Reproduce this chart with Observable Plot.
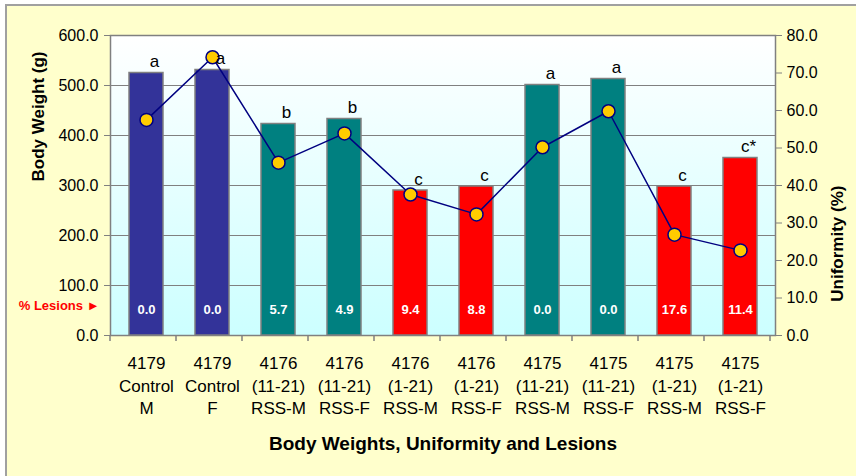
<!DOCTYPE html>
<html>
<head>
<meta charset="utf-8">
<script src="https://cdn.jsdelivr.net/npm/d3@7"></script>
<script src="https://cdn.jsdelivr.net/npm/@observablehq/plot@0.6"></script>
<style>
  html, body { margin: 0; padding: 0; background: #ffffff; }
  svg { display: block; }
</style>
</head>
<body>
<div id="chart"></div>
<script>
const categories = [
  "4179\nControl\nM", "4179\nControl\nF",
  "4176\n(11-21)\nRSS-M", "4176\n(11-21)\nRSS-F",
  "4176\n(1-21)\nRSS-M", "4176\n(1-21)\nRSS-F",
  "4175\n(11-21)\nRSS-M", "4175\n(11-21)\nRSS-F",
  "4175\n(1-21)\nRSS-M", "4175\n(1-21)\nRSS-F"
];
const groups = ["Control", "Control", "RSS 11-21", "RSS 11-21", "RSS 1-21", "RSS 1-21", "RSS 11-21", "RSS 11-21", "RSS 1-21", "RSS 1-21"];
const bodyWeight = [525, 531, 423, 433, 290, 298, 501, 513, 298, 355];
const uniformity = [57.5, 74.2, 46.1, 53.9, 37.6, 32.3, 50.2, 59.8, 26.9, 22.7];
const lesions = ["0.0", "0.0", "5.7", "4.9", "9.4", "8.8", "0.0", "0.0", "17.6", "11.4"];
const letters = ["a", "a", "b", "b", "c", "c", "a", "a", "c", "c*"];
const weightTicks = [0, 100, 200, 300, 400, 500, 600];
const uniformityTicks = [0, 10, 20, 30, 40, 50, 60, 70, 80];
const groupNames = ["Control", "RSS 11-21", "RSS 1-21"];
const groupColors = ["#333399", "#008080", "#ff0000"];

const weightMax = 600, uniformityMax = 80;
const k = weightMax / uniformityMax;

const data = categories.map((c, i) => ({
  cat: c, group: groups[i], w: bodyWeight[i], u: uniformity[i],
  lesion: lesions[i], letter: letters[i]
}));

const font = "'Liberation Sans', Arial, Helvetica, sans-serif";

function background(index, scales, values, dims) {
  const g = d3.create("svg:g");
  const defs = g.append("defs");
  const lg = defs.append("linearGradient").attr("id", "plotbg")
    .attr("x1", 0).attr("y1", 0).attr("x2", 0).attr("y2", 1);
  lg.append("stop").attr("offset", "0%").attr("stop-color", "#ffffff");
  lg.append("stop").attr("offset", "100%").attr("stop-color", "#ccffff");
  g.append("rect").attr("x", 6).attr("y", 5)
    .attr("width", dims.width + 20).attr("height", dims.height + 20)
    .attr("fill", "#ffffcc").attr("stroke", "#a0a0a0").attr("stroke-width", 2);
  return g.node();
}

function boundaryTicks(index, scales, values, dims) {
  const g = d3.create("svg:g").attr("stroke", "#808080").attr("stroke-width", 1.5);
  const x = scales.x;
  const step = x.step ? x.step() : x.bandwidth();
  const y0 = dims.height - dims.marginBottom;
  const x0 = dims.marginLeft;
  for (let i = 0; i <= categories.length; i++) {
    const xx = x0 + i * step;
    g.append("line").attr("x1", xx).attr("x2", xx).attr("y1", y0).attr("y2", y0 + 6);
  }
  return g.node();
}

const chart = Plot.plot({
  width: 856,
  height: 476,
  marginLeft: 110,
  marginRight: 81,
  marginTop: 35,
  marginBottom: 141,
  style: { background: "transparent", fontFamily: font, color: "#000" },
  x: { domain: categories, paddingInner: 0.49, paddingOuter: 0.245, label: null },
  y: { domain: [0, weightMax], label: null },
  color: { domain: groupNames, range: groupColors },
  marks: [
    background,
    Plot.frame({ fill: "url(#plotbg)", stroke: "none" }),
    Plot.gridY(weightTicks, { stroke: "#808080", strokeOpacity: 1, strokeWidth: 1.2 }),
    Plot.frame({ stroke: "#808080", strokeWidth: 1.5 }),
    Plot.barY(data, { x: "cat", y: "w", fill: "group", stroke: "#808080", strokeWidth: 1.5 }),
    Plot.axisY(weightTicks, {
      anchor: "left", tickFormat: d => d.toFixed(1), tickSize: 6, tickPadding: 6,
      fontSize: 16, stroke: "#808080", label: null
    }),
    Plot.axisY(uniformityTicks.map(t => t * k), {
      anchor: "right", tickFormat: d => (d / k).toFixed(1), tickSize: 6, tickPadding: 5,
      fontSize: 16, stroke: "#808080", label: null
    }),
    Plot.axisX({
      tickSize: 0, tickPadding: 18, fontSize: 17, lineHeight: 1.32, label: null
    }),
    boundaryTicks,
    Plot.line(data, { x: "cat", y: d => d.u * k, stroke: "#000080", strokeWidth: 1.5 }),
    Plot.dot(data, { x: "cat", y: d => d.u * k, r: 6.5, fill: "#ffcc00", stroke: "#000080", strokeWidth: 1.5 }),
    Plot.text(data, { x: "cat", y: "w", text: "letter", dx: 8, dy: -11, fontSize: 17, fill: "#000" }),
    Plot.text(data, { x: "cat", text: "lesion", frameAnchor: "bottom", dy: -22, fill: "#ffffff", fontWeight: "bold", fontSize: 13 }),
    Plot.text(["% Lesions \u25BA"], { frameAnchor: "bottom-left", dx: -11, dy: -26, textAnchor: "end", fill: "#ff0000", fontWeight: "bold", fontSize: 13 }),
    Plot.text(["Body Weight (g)"], { frameAnchor: "left", dx: -72, dy: -4, rotate: -90, fontWeight: "bold", fontSize: 17, fill: "#000" }),
    Plot.text(["Uniformity (%)"], { frameAnchor: "right", dx: 62, dy: 0, rotate: -90, fontWeight: "bold", fontSize: 17, fill: "#000" }),
    Plot.text(["Body Weights, Uniformity and Lesions"], { frameAnchor: "bottom", dy: 114, fontWeight: "bold", fontSize: 19, fill: "#000" })
  ]
});

document.getElementById("chart").appendChild(chart);
</script>
</body>
</html>
